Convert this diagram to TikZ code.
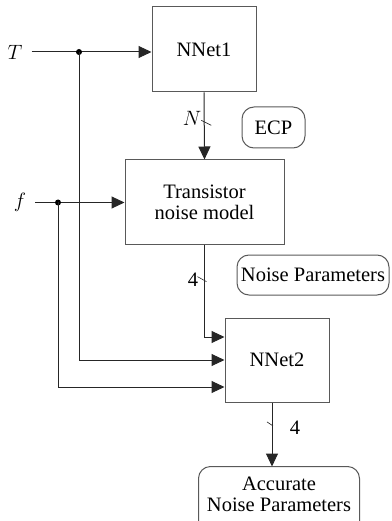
\documentclass[tikz,border=0pt]{standalone}
\usepackage{fontspec}
\setmainfont{Liberation Serif}
\usetikzlibrary{arrows.meta}

\tikzset{
  block/.style={shape=rectangle,draw=black!65,line width=1pt,minimum width=104pt,minimum height=85pt,align=center},
  tag/.style={shape=rectangle,rounded corners=12pt,draw=black!65,line width=1pt,align=center,inner sep=0pt},
  inlab/.style={inner xsep=9pt},
  arr/.style={-{Triangle[length=13pt,width=12pt]}},
  wire/.style={draw=black!85,line width=1pt},
}

\begin{document}
\begin{tikzpicture}[x=1pt,y=-1pt,font=\rmfamily\fontsize{20.5}{24}\selectfont]
\useasboundingbox (0,0) rectangle (391,521);
\node[block] at (204, 49.5) (nnet1) {NNet1};
\node[block,minimum width=159pt,minimum height=84pt] at (204.5, 202) (trans) {Transistor\\[-3pt]noise model};
\node[block,minimum height=84pt] at (277, 360) (nnet2) {NNet2};
\node[tag,minimum width=63pt,minimum height=41pt] at (273.5, 127.5) (ecp) {ECP};
\node[tag,minimum width=152pt,minimum height=40pt] at (313, 275) (noise) {Noise Parameters};
\node[tag,draw=none,minimum width=160pt,minimum height=54pt] at (279, 494) (acc) {Accurate\\[-3pt]Noise Parameters};
\draw[draw=black!65,line width=1pt,rounded corners=12pt] (acc.north west) rectangle ([yshift=-20pt]acc.south east);
\node[inlab] at (15, 52) (T) {$T$};
\node[inlab] at (20, 202.5) (f) {$f$};
\node at (192, 118) (nlab) {$N$};
\node at (193, 280) (four1) {4};
\node at (295, 428) (four2) {4};
\coordinate (tdot) at (79, 52);
\coordinate (fdot) at (58, 202.5);
\draw[wire,arr] (T.east) -- (T.east -| nnet1.west);
\draw[wire,arr] (f.east) -- (f.east -| trans.west);
\fill (tdot) circle (3);
\fill (fdot) circle (3);
\draw[wire,arr] (tdot) |- (nnet2.west);
\draw[wire,arr] (fdot) |- ([yshift=-27pt]nnet2.west);
\draw[wire,arr] (nnet1.south) -- coordinate[pos=0.46] (s1) (trans.north);
\draw[wire,arr] (trans.south) |- coordinate[pos=0.19] (s2) ([yshift=23pt]nnet2.west);
\draw[wire,arr] ([xshift=-5pt]nnet2.south) -- coordinate[pos=0.35] (s3) ([xshift=-5pt]nnet2.south |- acc.north);
\draw[wire,line width=0.6pt] (s1) +(-3,-3) -- +(7,2);
\draw[wire,line width=0.6pt] (s2) +(-7,-3) -- +(2,2);
\draw[wire,line width=0.6pt] (s3) +(-5,-3) -- +(1,1);
\end{tikzpicture}
\end{document}
